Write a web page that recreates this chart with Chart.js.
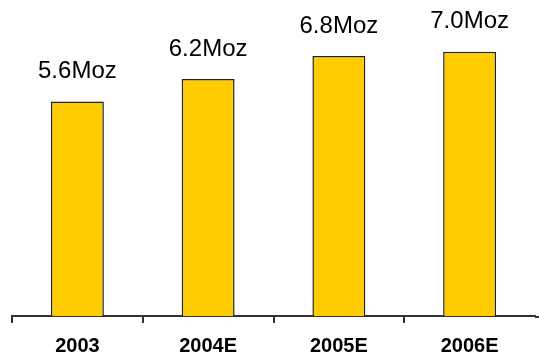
<!DOCTYPE html>
<html lang="en">
  <head>
    <meta charset="UTF-8" />
    <title>Production</title>
    <script src="https://cdn.jsdelivr.net/npm/chart.js"></script>
    <style>
      html, body { margin: 0; padding: 0; background: #fff; }
      #wrap { width: 539px; height: 360px; }
    </style>
  </head>
  <body>
    <div id="wrap"><canvas id="myChart"></canvas></div>
  </body>
  <script>
    const years = ["2003", "2004E", "2005E", "2006E"];
    const ounces = [5.68, 6.28, 6.89, 7.0]; // bar heights as drawn
    const valueLabels = ["5.6Moz", "6.2Moz", "6.8Moz", "7.0Moz"];

    const FONT = "'Liberation Sans', Arial, sans-serif";

    // text above each bar
    const topLabels = {
      id: "topLabels",
      afterDatasetsDraw(chart) {
        const c = chart.ctx;
        const bars = chart.getDatasetMeta(0).data;
        c.save();
        c.font = "24px " + FONT;
        c.fillStyle = "#000";
        c.textAlign = "center";
        c.textBaseline = "middle";
        bars.forEach((bar, i) => {
          c.fillText(valueLabels[i], bar.x, bar.y - 30);
        });
        c.restore();
      },
      afterDraw(chart) {
        // axis runs on to the right edge
        const c = chart.ctx;
        const a = chart.chartArea;
        c.save();
        c.strokeStyle = "#333";
        c.lineWidth = 2;
        c.beginPath();
        c.moveTo(a.right, a.bottom + 1);
        c.lineTo(chart.width, a.bottom + 1);
        c.stroke();
        c.restore();
      },
    };

    new Chart(document.getElementById("myChart"), {
      type: "bar",
      data: {
        labels: years,
        datasets: [
          {
            data: ounces,
            backgroundColor: "#ffcc00",
            borderColor: "#222",
            borderWidth: 1.5,
            categoryPercentage: 1,
            barPercentage: 0.405,
          },
        ],
      },
      options: {
        responsive: true,
        maintainAspectRatio: false,
        animation: false,
        layout: { padding: { left: 12, right: 4, top: 14, bottom: 0 } },
        plugins: {
          legend: { display: false },
          tooltip: { enabled: false },
        },
        scales: {
          x: {
            offset: true,
            afterFit: (scale) => {
              scale.height = 44;
            },
            border: { display: true, color: "#333", width: 2 },
            grid: {
              drawOnChartArea: false,
              drawTicks: true,
              tickLength: 7,
              lineWidth: 2,
              color: (ctx) => (ctx.type === "tick" ? "#333" : "rgba(0,0,0,0)"),
            },
            ticks: {
              color: "#000",
              padding: 11,
              font: { family: FONT, size: 20, weight: "bold" },
            },
          },
          y: {
            display: false,
            min: 0,
            max: 8,
          },
        },
      },
      plugins: [topLabels],
    });
  </script>
</html>
